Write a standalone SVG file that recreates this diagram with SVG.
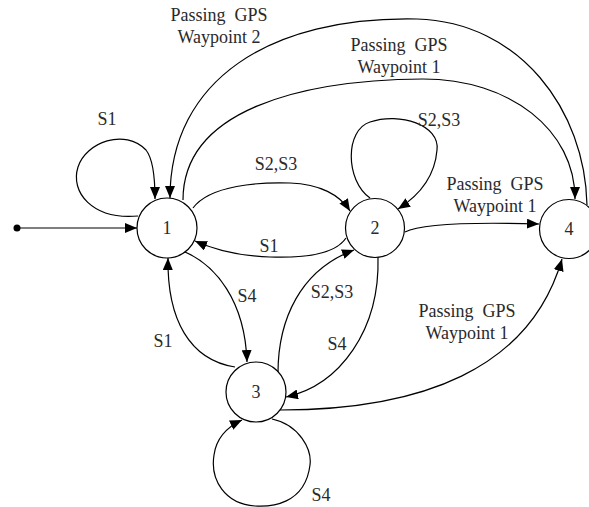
<svg xmlns="http://www.w3.org/2000/svg" width="589" height="507" viewBox="0 0 589 507">
  <style>
    .state circle { fill: #fff; stroke: #000; stroke-width: 1.2; }
    .state text, .lbl { font-family: "Liberation Serif", "Times New Roman", serif; font-size: 18px; fill: #2a2a2a; text-anchor: middle; white-space: pre; }
    .edge { fill: none; stroke: #000; stroke-width: 1.2; marker-end: url(#arrow); }
  </style>
  <defs>
    <marker id="arrow" viewBox="0 0 12 10" refX="12" refY="5" markerWidth="12" markerHeight="10" markerUnits="userSpaceOnUse" orient="auto">
      <path d="M0,0 L12,5 L0,10 Z" fill="#000"/>
    </marker>
  </defs>

  <g id="connectors">
    <!-- initial transition -->
    <circle cx="17" cy="228" r="3.5" fill="#000"/>
    <path class="edge" d="M17,228 L137,228"/>
    <!-- 1 -> 1 -->
    <path class="edge" d="M138,216 C 92,220 70,192 78,167 C 86,142 125,128 146,150 C 154,160 155,180 155,199"/>
    <!-- 4 -> 1 : waypoint 2 -->
    <path class="edge" d="M587,205 C 585,110 520,22 417,19 C 270,16 170,80 170,198"/>
    <!-- 1 -> 4 : waypoint 1 -->
    <path class="edge" d="M183,200 C 183,110 300,80 423,79 C 510,79 575,130 575,199"/>
    <!-- 1 -> 2 -->
    <path class="edge" d="M193,208 C 210,185 260,182 290,183 C 320,184 340,195 350,211"/>
    <!-- 2 -> 1 -->
    <path class="edge" d="M346,238 C 335,255 300,258 270,257 C 240,256 215,250 195,241"/>
    <!-- 2 -> 2 -->
    <path class="edge" d="M370,198 C 345,180 345,130 370,122 C 400,112 440,125 437,150 C 435,175 420,195 398,209"/>
    <!-- 2 -> 4 -->
    <path class="edge" d="M405,232 C 420,224 470,222 539,224"/>
    <!-- 1 -> 3 -->
    <path class="edge" d="M185,252 C 215,265 245,300 247,362"/>
    <!-- 3 -> 1 -->
    <path class="edge" d="M235,367 C 190,360 167,320 168,258"/>
    <!-- 3 -> 2 -->
    <path class="edge" d="M278,373 C 278,320 300,270 354,250"/>
    <!-- 2 -> 3 -->
    <path class="edge" d="M378,257 C 380,330 340,385 286,397"/>
    <!-- 3 -> 4 -->
    <path class="edge" d="M280,410 C 420,410 530,370 562,259"/>
    <!-- 3 -> 3 -->
    <path class="edge" d="M272,419 C 300,425 312,450 310,465 C 305,505 270,507 255,506 C 225,504 210,480 214,455 C 216,440 225,428 242,420"/>

    <!-- transition labels -->
    <text class="lbl" x="107" y="125">S1</text>
    <text class="lbl" x="219" y="21">Passing  GPS</text>
    <text class="lbl" x="219" y="43">Waypoint 2</text>
    <text class="lbl" x="399" y="51">Passing  GPS</text>
    <text class="lbl" x="399" y="73">Waypoint 1</text>
    <text class="lbl" x="439" y="126">S2,S3</text>
    <text class="lbl" x="276" y="170">S2,S3</text>
    <text class="lbl" x="495" y="190">Passing  GPS</text>
    <text class="lbl" x="495" y="212">Waypoint 1</text>
    <text class="lbl" x="269" y="252">S1</text>
    <text class="lbl" x="247" y="302">S4</text>
    <text class="lbl" x="163" y="347">S1</text>
    <text class="lbl" x="332" y="298">S2,S3</text>
    <text class="lbl" x="337" y="350">S4</text>
    <text class="lbl" x="467" y="317">Passing  GPS</text>
    <text class="lbl" x="467" y="339">Waypoint 1</text>
    <text class="lbl" x="321" y="501">S4</text>
  </g>

  <g id="state1" class="state">
    <circle cx="167" cy="228" r="30"/>
    <text x="167" y="234">1</text>
  </g>
  <g id="state2" class="state">
    <circle cx="375" cy="228" r="29.5"/>
    <text x="375" y="234">2</text>
  </g>
  <g id="state3" class="state">
    <circle cx="256" cy="392" r="30"/>
    <text x="256" y="398">3</text>
  </g>
  <g id="state4" class="state">
    <circle cx="569" cy="229" r="29.5"/>
    <text x="569" y="235">4</text>
  </g>
</svg>
